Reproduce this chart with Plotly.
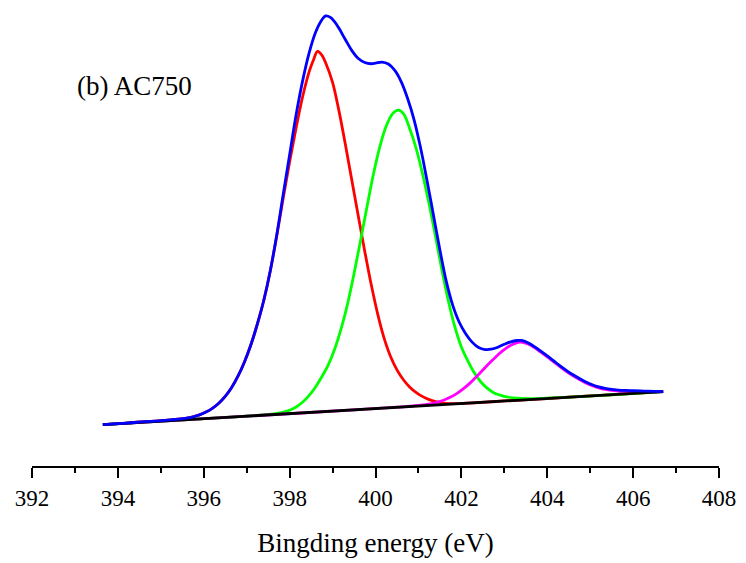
import plotly.graph_objects as go

# N 1s spectrum of AC750: measured envelope, fitted components and linear background
# binding energy (eV) / intensity (a.u.)
blue_ev = [393.65, 394.20, 394.70, 395.00, 395.30, 395.60, 395.75, 395.90, 396.05, 396.20,
           396.35, 396.50, 396.65, 396.80, 396.95, 397.10, 397.25, 397.40, 397.55, 397.70,
           397.85, 398.00, 398.15, 398.30, 398.45, 398.60, 398.72, 398.84, 398.95, 399.05,
           399.15, 399.30, 399.45, 399.60, 399.75, 399.90, 400.00, 400.15, 400.30, 400.45,
           400.60, 400.75, 400.90, 401.05, 401.20, 401.35, 401.50, 401.65, 401.80, 401.95,
           402.10, 402.25, 402.40, 402.55, 402.70, 402.85, 403.00, 403.15, 403.30, 403.40,
           403.55, 403.70, 403.85, 404.00, 404.15, 404.30, 404.45, 404.60, 404.75, 404.90,
           405.05, 405.20, 405.35, 405.50, 405.65, 405.80, 406.00, 406.25, 406.50, 406.70]
blue = [39.7, 41.3, 43.0, 43.7, 44.9, 46.2, 47.6, 49.6, 52.4, 56.2,
        61.3, 68.2, 77.2, 88.8, 103.2, 120.5, 141.5, 165.5, 195.0, 231.0,
        272.0, 312.0, 352.0, 386.0, 414.0, 435.0, 446.0, 452.0, 450.5, 446.0,
        439.5, 428.0, 417.0, 409.0, 405.0, 403.8, 404.3, 405.5, 403.5, 397.0,
        385.5, 368.5, 347.0, 319.0, 286.0, 251.0, 216.0, 184.0, 160.0, 143.0,
        131.5, 123.0, 117.5, 115.5, 115.8, 117.8, 120.8, 123.3, 124.6, 124.7,
        122.3, 118.5, 113.8, 109.0, 104.0, 99.0, 94.3, 90.0, 86.2, 82.8,
        80.0, 77.8, 76.2, 75.2, 74.6, 74.2, 73.9, 73.6, 73.3, 73.0]

red_ev = [393.65, 394.20, 394.70, 395.00, 395.30, 395.60, 395.75, 395.90, 396.05, 396.20,
          396.35, 396.50, 396.65, 396.80, 396.95, 397.10, 397.25, 397.40, 397.55, 397.70,
          397.85, 398.00, 398.15, 398.30, 398.45, 398.55, 398.65, 398.75, 398.85, 399.00,
          399.15, 399.30, 399.45, 399.60, 399.75, 399.90, 400.05, 400.20, 400.35, 400.50,
          400.65, 400.80, 400.95, 401.10, 401.25, 401.40, 401.55, 401.70, 401.90, 402.20,
          403.00, 404.00, 405.00, 406.00, 406.70]
red = [39.7, 41.3, 43.0, 43.7, 44.9, 46.2, 47.6, 49.6, 52.4, 56.2,
       61.3, 68.2, 77.2, 88.8, 103.2, 120.5, 141.5, 165.5, 195.0, 230.0,
       268.0, 305.0, 339.0, 370.0, 395.0, 407.0, 416.3, 412.5, 403.5, 385.0,
       356.0, 322.0, 286.0, 250.0, 214.5, 181.0, 151.5, 127.0, 108.5, 95.0,
       85.0, 77.5, 72.0, 68.0, 65.0, 63.0, 61.8, 61.0, 60.9, 61.5,
       63.6, 66.1, 68.7, 71.2, 73.0]

green_ev = [393.65, 396.50, 397.30, 397.50, 397.70, 397.85, 398.00, 398.15, 398.30, 398.45,
            398.60, 398.75, 398.90, 399.05, 399.20, 399.35, 399.50, 399.65, 399.80, 399.95,
            400.10, 400.25, 400.40, 400.53, 400.65, 400.80, 400.95, 401.10, 401.25, 401.40,
            401.55, 401.70, 401.85, 402.00, 402.15, 402.30, 402.45, 402.60, 402.75, 402.90,
            403.05, 403.20, 403.40, 403.70, 404.00, 404.50, 405.50, 406.70]
green = [39.7, 47.0, 49.2, 50.0, 51.1, 52.4, 54.3, 57.5, 62.3, 69.0,
         77.5, 88.0, 100.0, 116.0, 136.5, 161.5, 192.0, 225.0, 259.0, 292.0,
         320.0, 341.0, 353.5, 357.0, 353.5, 338.0, 318.0, 292.0, 262.0, 229.0,
         195.0, 164.0, 138.0, 118.0, 104.0, 92.0, 83.0, 76.5, 72.0, 69.5,
         67.8, 66.8, 66.2, 66.0, 66.5, 67.4, 69.9, 73.0]

pink_ev = [393.65, 399.50, 400.50, 401.00, 401.30, 401.45, 401.60, 401.75, 401.90, 402.05,
           402.20, 402.35, 402.50, 402.65, 402.80, 402.95, 403.10, 403.25, 403.37, 403.55,
           403.70, 403.85, 404.00, 404.15, 404.30, 404.45, 404.60, 404.75, 404.90, 405.05,
           405.20, 405.35, 405.50, 405.65, 405.80, 406.00, 406.25, 406.50, 406.70]
pink = [39.7, 54.6, 57.3, 59.1, 61.0, 62.5, 64.6, 67.5, 71.3, 76.0,
        81.6, 88.0, 94.8, 101.6, 108.0, 113.8, 118.6, 121.7, 123.0, 121.2,
        117.5, 112.8, 108.0, 103.0, 98.0, 93.3, 89.0, 85.2, 81.8, 79.0,
        76.8, 75.2, 74.2, 73.6, 73.2, 72.9, 72.8, 72.9, 73.0]

base_ev = [393.65, 406.70]
base = [39.7, 73.0]

x_ticks = [392, 394, 396, 398, 400, 402, 404, 406, 408]

SERIF = "Liberation Serif"

fig = go.Figure()

def curve(xs, ys, color):
    fig.add_trace(go.Scatter(
        x=xs, y=ys, mode="lines",
        line=dict(color=color, width=2.8, shape="spline", smoothing=1.0),
        hoverinfo="skip", showlegend=False,
    ))

curve(red_ev, red, "#ff0000")
curve(green_ev, green, "#00ff00")
curve(pink_ev, pink, "#ff00ff")
fig.add_trace(go.Scatter(x=base_ev, y=base, mode="lines",
                         line=dict(color="#000000", width=2.8),
                         hoverinfo="skip", showlegend=False))
curve(blue_ev, blue, "#0000ff")

fig.add_annotation(x=393.0, y=381, xref="x", yref="y", text="(b) AC750",
                   showarrow=False, xanchor="left", yanchor="middle",
                   font=dict(family=SERIF, size=27, color="black"))

fig.update_layout(
    width=746, height=563,
    margin=dict(l=32, r=19, t=10, b=93),
    paper_bgcolor="white", plot_bgcolor="white",
    showlegend=False,
    xaxis=dict(
        range=[392, 408], tickvals=x_ticks, ticktext=[str(v) for v in x_ticks],
        showline=True, linecolor="black", linewidth=2,
        ticks="outside", ticklen=10, tickwidth=2, tickcolor="black",
        minor=dict(ticks="outside", ticklen=5, tickwidth=2, tickcolor="black", dtick=1, tick0=392),
        showgrid=False, zeroline=False,
        tickfont=dict(family=SERIF, size=23, color="black"),
        title=dict(text="Bingding energy (eV)", standoff=24,
                   font=dict(family=SERIF, size=27, color="black")),
    ),
    yaxis=dict(range=[-2, 458], visible=False, showgrid=False, zeroline=False),
)

fig.write_html("out.html")
